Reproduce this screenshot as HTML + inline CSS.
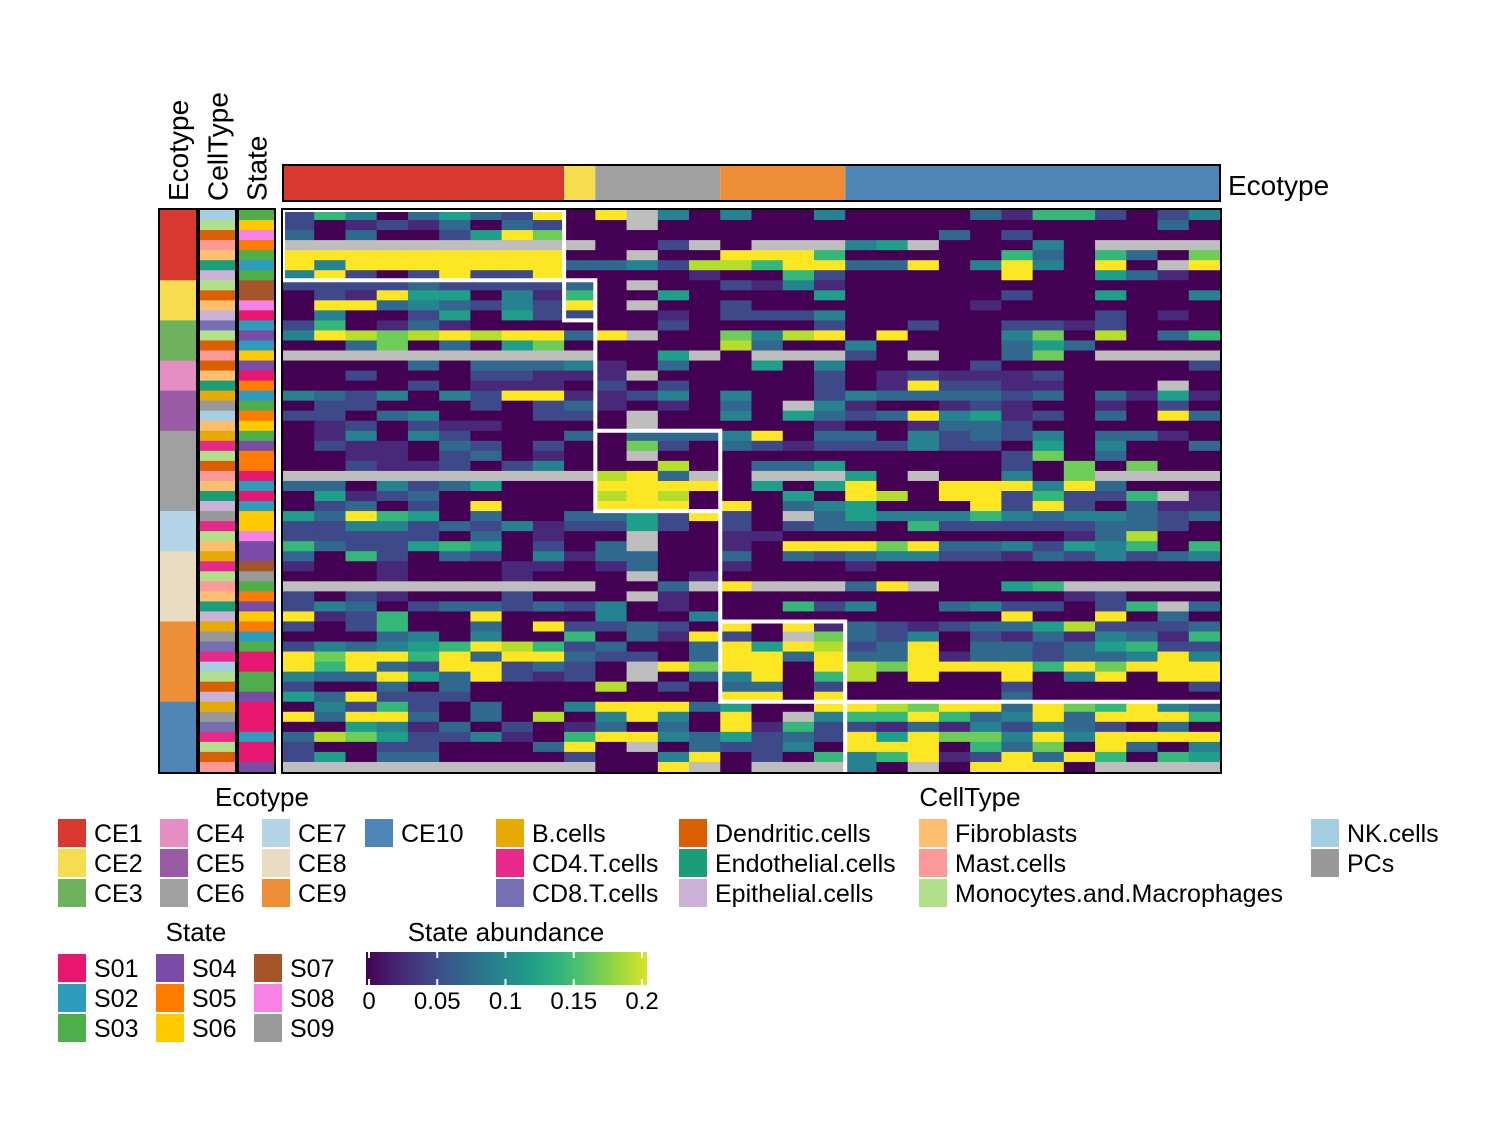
<!DOCTYPE html>
<html><head><meta charset="utf-8"><style>
html,body{margin:0;padding:0;background:#fff;}
svg{display:block;font-family:"Liberation Sans",Arial,sans-serif;}
</style></head><body>
<svg id="chart" width="1500" height="1125" viewBox="0 0 1500 1125" xmlns="http://www.w3.org/2000/svg">
<g id="hm"></g>
<g id="ann"></g>
<g id="leg"></g>
</svg>
<script>
// ---- data ----
const colEcotypes = ["CE1","CE2","CE6","CE9","CE10"];
const colEcotypeCounts = [9,1,4,4,12];
const rowEcotypes = ["CE1","CE2","CE3","CE4","CE5","CE6","CE7","CE8","CE9","CE10"];
const rowEcotypeCounts = [7,4,4,3,4,8,4,7,8,7];
const rowCellTypes = ["NK","Mono","DC","Mast","Fib","Endo","Epi","Mono","DC","Fib","Epi","CD8","Mono","DC","Mast","DC","Fib","Endo","B","PC","NK","Fib","B","CD4","Mono","DC","Mast","Fib","Endo","Epi","PC","CD4","Mono","Fib","B","CD4","Mono","Mast","Fib","Endo","Epi","B","PC","CD8","CD4","NK","Mono","DC","Epi","B","PC","CD8","CD4","Mono","DC","Mast"];
const rowStates = ["S03","S06","S08","S05","S03","S02","S03","S07","S07","S08","S01","S02","S04","S02","S06","S04","S01","S05","S02","S03","S05","S06","S03","S04","S05","S05","S01","S02","S01","S02","S06","S06","S08","S04","S04","S07","S09","S03","S05","S04","S06","S05","S02","S03","S01","S01","S03","S03","S04","S01","S01","S01","S02","S01","S01","S04"];
// abundance levels per row (digit d -> value d*0.0247, '-' = NA)
const abundanceRows = [
"2640353290"+"9-40400400"+"0031662024",
"2012130320"+"0-00000000"+"0000000030",
"3030025970"+"0000000000"+"0302000000",
"----------"+"002-0---45"+"-00040----",
"9999999990"+"0-00999600"+"0006306307",
"9499999993"+"3428869933"+"90494090-9",
"4920292290"+"0001006200"+"0009005310",
"2222322223"+"0-00214100"+"0000000000",
"0219550416"+"0050000500"+"0002005004",
"0993432429"+"0-00200000"+"0010000000",
"0400250522"+"0010222400"+"0000002010",
"2601310000"+"0020000200"+"2002212000",
"4987898993"+"9-00748909"+"0004708036",
"0037030570"+"0000830040"+"0003530000",
"----------"+"005-0---20"+"-00370----",
"0000303334"+"1030050400"+"0020000002",
"0020002211"+"1-00000201"+"2111200000",
"0000201110"+"2020000201"+"92211000-0",
"4324042991"+"1240400243"+"3332303151",
"0220002023"+"101030-410"+"0121001020",
"2203400022"+"0-00405323"+"9451203093",
"0120211000"+"0-00000100"+"1332000000",
"0140420003"+"0333490330"+"4232403310",
"0211032020"+"0720321222"+"4220504003",
"0011023010"+"0-00000000"+"0002703000",
"0021120240"+"0080033500"+"0002070700",
"----------"+"893-0---50"+"-00407----",
"3304235000"+"9999050590"+"0999493000",
"0512300000"+"8980005098"+"09926226-1",
"0230209000"+"9990903450"+"0092920311",
"5396503003"+"352920-354"+"4464344323",
"2244232412"+"2520202330"+"6222223320",
"2222203010"+"0-00110000"+"0000013800",
"6322565020"+"3-00109997"+"9334254606",
"3062032041"+"3300303234"+"4221324234",
"1001000110"+"1300100010"+"0000000000",
"0001000100"+"0-01000000"+"0000000000",
"----------"+"003-9---39"+"-0056-----",
"2021000200"+"0-10000000"+"0000012000",
"2430233232"+"4010006240"+"03422026-3",
"9126009000"+"4004000000"+"0009009030",
"2026003092"+"2320909132"+"1233582223",
"0003404006"+"031920-732"+"4021314316",
"2434569862"+"3003959823"+"9033235622",
"9799693993"+"2203993933"+"9133233494",
"9693299232"+"0-97990987"+"9999697999",
"4339539212"+"0-03490680"+"9009049099",
"2003030000"+"8020330200"+"0002000002",
"5392220000"+"0000990900"+"0003000000",
"0426203004"+"9993500998"+"7993976943",
"9399303080"+"494090-466"+"9634939996",
"0054130201"+"3030916221"+"3142432030",
"3875224106"+"9943523295"+"9774949999",
"2002200039"+"0-03224099"+"9063709304",
"2503300002"+"0049020646"+"9129396065",
"----------"+"009-0---40"+"-09990----"
];
const colorbarTicks = [0,0.05,0.1,0.15,0.2];
const colorbarLabels = ["0","0.05","0.1","0.15","0.2"];

const ecoColors={CE1:"#d8392e",CE2:"#f6dc4f",CE3:"#6fb25e",CE4:"#e58ec4",CE5:"#985ba4",CE6:"#a0a0a0",CE7:"#b5d4e7",CE8:"#e9dcc3",CE9:"#ee8e37",CE10:"#4e86b8"};
const ctColors={B:"#e6ab02",CD4:"#e7298a",CD8:"#7570b3",DC:"#d95f02",Endo:"#1b9e77",Epi:"#cab2d6",Fib:"#fdbf6f",Mast:"#fb9a99",Mono:"#b2df8a",NK:"#a6cee3",PC:"#999999"};
const stColors={S01:"#e7176f",S02:"#2f9bbd",S03:"#4eae49",S04:"#7a4ca7",S05:"#ff7c00",S06:"#ffcb00",S07:"#a5552a",S08:"#f582e4",S09:"#9a9a9a"};

const NS="http://www.w3.org/2000/svg";
function mk(tag,attrs,parent){const e=document.createElementNS(NS,tag);for(const k in attrs)e.setAttribute(k,attrs[k]);parent.appendChild(e);return e;}

const vir=[[68,1,84],[72,40,120],[62,73,137],[49,104,142],[38,130,142],[31,158,137],[53,183,121],[109,205,89],[180,222,44],[253,231,37]];
function viridis(t){t=Math.max(0,Math.min(1,t));const p=t*9,i=Math.min(8,Math.floor(p)),f=p-i;const a=vir[i],b=vir[i+1];return `rgb(${Math.round(a[0]+(b[0]-a[0])*f)},${Math.round(a[1]+(b[1]-a[1])*f)},${Math.round(a[2]+(b[2]-a[2])*f)})`;}
const VMAX=0.222;

// axes
const X0=283,X1=1220,Y0=210,Y1=772;
const nCols=abundanceRows[0].length,nRows=abundanceRows.length;
const cw=(X1-X0)/nCols,rh=(Y1-Y0)/nRows;
const xCol=j=>X0+j*cw, yRow=i=>Y0+i*rh;

const hm=document.getElementById('hm');
abundanceRows.forEach((row,i)=>{
  for(let j=0;j<nCols;j++){
    const ch=row[j];
    const r=mk('rect',{x:xCol(j).toFixed(2),y:yRow(i).toFixed(2),width:(cw+0.6).toFixed(2),height:(rh+0.6).toFixed(2),fill:ch==='-'?'#bebebe':viridis((+ch*0.0247)/VMAX)},hm);
    
    
  }
});
// white block outlines
function cumul(a){const o=[0];a.forEach(v=>o.push(o[o.length-1]+v));return o;}
const cc=cumul(colEcotypeCounts), rc=cumul(rowEcotypeCounts);
const rowIdx=e=>rowEcotypes.indexOf(e);
const pathD=[];
colEcotypes.forEach((e,k)=>{const ri=rowIdx(e);const x=xCol(cc[k]),x2=xCol(cc[k+1]),y=yRow(rc[ri]),y2=yRow(rc[ri+1]);
  if(k===colEcotypes.length-1){pathD.push(`M${x} ${y}H${x2}`);}
  else pathD.push(`M${x} ${y}H${x2}V${y2}H${x}Z`);});
// connecting staircase lines
pathD.push(`M${xCol(cc[2])} ${yRow(rc[1])}V${yRow(rc[5])}`);
pathD.push(`M${xCol(cc[3])} ${yRow(rc[5])}V${yRow(rc[9])}`);
pathD.push(`M${xCol(cc[4])} ${yRow(rc[8])}V${Y1}`);
const wp=mk('path',{d:pathD.join(''),fill:'none',stroke:'#fff','stroke-width':4},hm);


const hb=mk('rect',{x:X0-1,y:Y0-1,width:X1-X0+2,height:Y1-Y0+2,fill:'none',stroke:'#000','stroke-width':2},hm);



// top ecotype bar
const ann=document.getElementById('ann');
colEcotypes.forEach((e,k)=>{
  const r=mk('rect',{x:xCol(cc[k]),y:166,width:xCol(cc[k+1])-xCol(cc[k]),height:35,fill:ecoColors[e]},ann);
  
  
});
mk('rect',{x:X0,y:165,width:X1-X0,height:36,fill:'none',stroke:'#000','stroke-width':2},ann);
const te=mk('text',{x:1228,y:195,'font-size':28,fill:'#000'},ann);te.textContent='Ecotype';



// left annotations
const colsX=[{x:160,w:36,get:i=>{let k=0;while(i>=rc[k+1])k++;return ecoColors[rowEcotypes[k]];},name:'Ecotype'},
 {x:200,w:35,get:i=>ctColors[rowCellTypes[i]],name:'CellType'},
 {x:239,w:35,get:i=>stColors[rowStates[i]],name:'State'}];
colsX.forEach((c,ci)=>{
  for(let i=0;i<nRows;i++){
    const r=mk('rect',{x:c.x,y:yRow(i).toFixed(2),width:c.w,height:(rh+0.6).toFixed(2),fill:c.get(i)},ann);
    
    
  }
  mk('rect',{x:c.x-1,y:Y0-1,width:c.w+2,height:Y1-Y0+2,fill:'none',stroke:'#000','stroke-width':2},ann);
  const t=mk('text',{x:0,y:0,'font-size':28,fill:'#000',transform:`translate(${c.x+c.w/2+10},201) rotate(-90)`},ann);
  t.textContent=c.name;
  
  
});

// legends
const leg=document.getElementById('leg');
function title(x,y,s,anchor){const t=mk('text',{x,y,'font-size':26,fill:'#000','text-anchor':anchor||'middle'},leg);t.textContent=s;}
function item(x,yc,col,s){const r=mk('rect',{x,y:yc-14,width:28,height:28,fill:col},leg);const t=mk('text',{x:x+36,y:yc+9,'font-size':25,fill:'#000'},leg);t.textContent=s;}
title(262,806,'Ecotype');
const ecoOrder=["CE1","CE2","CE3","CE4","CE5","CE6","CE7","CE8","CE9","CE10"];
const lx=[58,160,262,365],ly=[833,863,893];
ecoOrder.forEach((e,i)=>item(lx[Math.floor(i/3)],ly[i%3],ecoColors[e],e));
title(970,806,'CellType');
const ctNames=[["B","B.cells"],["CD4","CD4.T.cells"],["CD8","CD8.T.cells"],["DC","Dendritic.cells"],["Endo","Endothelial.cells"],["Epi","Epithelial.cells"],["Fib","Fibroblasts"],["Mast","Mast.cells"],["Mono","Monocytes.and.Macrophages"],["NK","NK.cells"],["PC","PCs"]];
const cx=[496,679,919,1311];
ctNames.forEach((c,i)=>item(cx[Math.floor(i/3)],ly[i%3],ctColors[c[0]],c[1]));
title(196,941,'State');
const sy=[968,998,1028],sx=[58,156,254];
Object.keys(stColors).forEach((s,i)=>item(sx[Math.floor(i/3)],sy[i%3],stColors[s],s));
title(506,941,'State abundance');
// colorbar
const defs=mk('defs',{},leg);
const lg=mk('linearGradient',{id:'cbg',x1:0,x2:1,y1:0,y2:0},defs);
for(let k=0;k<=10;k++){mk('stop',{offset:k/10,'stop-color':viridis(k/10*0.21/VMAX)},lg);}
const xv=v=>369+v*1365;
const cb=mk('rect',{x:366,y:952,width:281,height:33,fill:'url(#cbg)'},leg);


colorbarTicks.forEach((v,i)=>{
  mk('line',{x1:xv(v),x2:xv(v),y1:952,y2:958,stroke:'#fff','stroke-width':2},leg);
  mk('line',{x1:xv(v),x2:xv(v),y1:979,y2:985,stroke:'#fff','stroke-width':2},leg);
  const t=mk('text',{x:xv(v),y:1009,'font-size':24,'text-anchor':'middle',fill:'#000'},leg);
  t.textContent=colorbarLabels[i];
  
  
});
</script>
</body></html>
